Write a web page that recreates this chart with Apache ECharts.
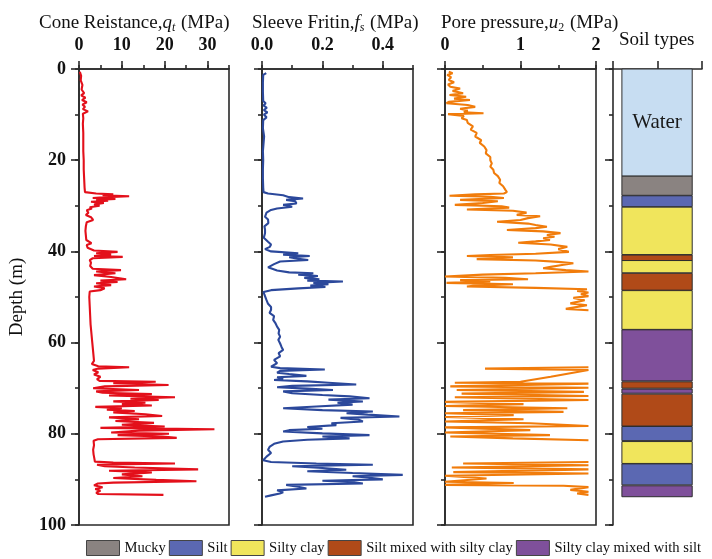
<!DOCTYPE html>
<html>
<head>
<meta charset="utf-8">
<script src="https://cdn.jsdelivr.net/npm/echarts@6/dist/echarts.min.js"></script>
<style>
  html, body { margin: 0; padding: 0; background: #fff; }
  #chart { width: 712px; height: 559px; }
</style>
</head>
<body>
<div id="chart"></div>
<script>
// ---- CPT profile: cone resistance q_t (MPa) against depth (m)
const coneDepth = [0.6,1.5,2.5,3.5,4.5,5.3,5.8,6.3,6.8,7.3,7.8,8.3,8.8,9.3,9.8,10.8,12,14,16,18,20,22,24,26,27.0,27.3,27.5,27.7,27.9,28.1,28.3,28.5,28.7,28.9,29.1,29.4,29.7,30.0,30.3,30.6,31.0,31.5,32.0,32.5,33.1,33.6,34.5,35.5,36.5,37.5,38.2,38.6,39.2,39.8,40.1,40.4,40.7,41.0,41.2,41.5,41.9,42.5,43.2,43.8,44.1,44.4,44.8,45.2,45.6,46.1,46.4,46.7,47.0,47.4,47.7,48.1,48.5,48.8,50,52,54,56,58,60,62,64,64.7,65.2,65.4,65.7,66.0,66.5,67.0,67.5,68.0,68.4,68.6,68.9,69.3,69.6,70.0,70.4,70.7,71.0,71.3,71.6,72.0,72.3,72.6,72.9,73.2,73.5,73.8,74.1,74.4,74.7,75.0,75.3,75.7,76.1,76.4,76.8,77.2,77.6,78.0,78.4,78.7,79.0,79.3,79.7,80.0,80.3,80.6,80.9,81.2,81.5,82.5,83.5,84.5,85.5,86.1,86.3,86.5,86.8,87.1,87.4,87.8,88.1,88.5,88.9,89.3,89.7,90.1,90.4,90.7,90.9,91.3,91.7,92.1,92.5,92.9,93.2,93.4];
const coneQt = [0.2,0.5,0.4,0.8,0.6,1.2,0.5,1.5,0.7,1.8,0.8,1.4,0.9,2.1,0.9,1.0,0.9,1.0,1.0,1.0,1.1,1.1,1.2,1.3,1.4,4.0,8.0,5.5,11.7,6.5,3.2,8.5,4.0,6.8,2.8,5.8,3.5,4.8,2.5,3.0,1.8,2.2,1.6,2.8,3.3,1.8,1.6,1.5,1.6,1.7,2.9,1.8,2.0,3.5,9.0,4.0,7.5,3.5,10.2,3.2,2.5,2.8,2.6,3.2,9.8,4.0,8.5,3.5,7.5,11.0,5.0,9.0,4.0,7.5,3.5,6.0,5.0,2.5,2.4,2.5,2.6,2.7,2.9,3.1,3.3,3.5,3.0,4.5,11.7,4.5,3.2,4.5,3.5,5.0,4.2,4.8,17.9,8.0,20.9,6.0,3.3,14.0,4.0,5.5,17.0,7.0,22.4,12.0,18.6,8.0,15.5,10.0,17.0,3.8,10.0,6.5,13.0,8.0,15.5,19.4,7.0,14.0,8.5,17.5,10.0,20.0,5.0,31.6,14.0,7.5,21.0,9.0,19.5,22.8,4.4,3.4,3.5,3.3,3.4,3.6,3.7,8.0,22.4,4.2,6.0,13.0,27.8,7.0,17.0,10.0,14.8,8.0,18.0,27.4,8.0,4.4,3.5,5.5,3.8,5.0,4.0,4.5,19.7];

// ---- sleeve friction f_s (MPa)
const sleeveDepth = [0.9,1.3,3,5,7,7.5,8,8.5,9,9.5,10,10.6,11.2,13,14.8,15.2,18,20,22,24,26,27.0,27.3,27.7,28.1,28.4,28.7,29.0,29.5,29.8,30.2,30.6,30.9,31.5,32.4,33.0,33.8,34.5,35.2,36.0,37.0,37.9,38.5,39.0,39.5,40.0,40.4,40.7,41.0,41.3,41.6,41.9,42.2,42.8,43.5,44.2,44.6,44.8,45.1,45.4,45.8,46.1,46.4,46.6,46.9,47.2,47.5,47.8,48.1,48.5,48.9,49.5,50.7,51.5,52.2,52.8,53.5,54.2,55.0,55.8,56.5,57.2,58.0,58.7,59.4,60.2,61.0,61.6,62.3,63.0,63.8,64.5,65.3,65.6,65.9,66.2,66.6,66.9,67.3,67.6,68.0,68.2,68.5,68.8,69.2,69.5,69.8,70.1,70.4,70.7,71.1,71.5,71.8,72.2,72.5,72.9,73.2,73.6,74.0,74.4,74.8,75.1,75.5,75.8,76.2,76.5,76.9,77.3,77.7,78.1,78.5,78.9,79.2,79.5,79.9,80.3,80.6,81.0,81.3,81.7,82.2,82.8,83.5,84.2,85.0,85.8,86.2,86.5,86.8,87.1,87.5,87.9,88.2,88.6,89.0,89.3,89.6,90.0,90.3,90.6,90.9,91.2,91.6,92.0,92.4,92.8,93.1,93.5,93.8];
const sleeveFs = [0.014,0.004,0.003,0.003,0.004,0.012,0.005,0.016,0.006,0.018,0.006,0.015,0.004,0.003,0.007,0.003,0.003,0.004,0.003,0.003,0.004,0.005,0.02,0.07,0.09,0.136,0.08,0.11,0.114,0.07,0.1,0.05,0.03,0.015,0.01,0.02,0.021,0.008,0.01,0.01,0.006,0.02,0.03,0.026,0.01,0.03,0.12,0.07,0.158,0.09,0.12,0.153,0.06,0.04,0.02,0.05,0.09,0.17,0.12,0.185,0.14,0.19,0.15,0.268,0.17,0.22,0.16,0.21,0.12,0.03,0.005,0.008,0.015,0.02,0.03,0.03,0.025,0.04,0.037,0.045,0.05,0.057,0.055,0.06,0.054,0.06,0.065,0.07,0.055,0.06,0.04,0.05,0.03,0.06,0.208,0.06,0.05,0.09,0.147,0.05,0.07,0.04,0.15,0.22,0.312,0.1,0.05,0.15,0.235,0.07,0.10,0.2,0.29,0.356,0.22,0.334,0.25,0.3,0.18,0.07,0.2,0.367,0.28,0.35,0.455,0.26,0.32,0.334,0.23,0.246,0.15,0.2,0.09,0.07,0.2,0.356,0.2,0.29,0.15,0.07,0.04,0.026,0.02,0.03,0.015,0.004,0.03,0.18,0.367,0.1,0.2,0.279,0.15,0.3,0.466,0.3,0.35,0.40,0.2,0.3,0.334,0.08,0.12,0.147,0.05,0.07,0.059,0.03,0.01];

// ---- pore pressure u_2 (MPa); null = no reading on the 0-2 MPa scale
const poreDepth = [0.6,0.95,1.3,1.8,2.4,2.9,3.4,3.9,4.3,4.8,5.3,5.7,6.1,6.5,6.8,7.2,7.5,7.9,8.3,8.7,9.1,9.5,9.7,9.9,10.3,10.8,11.2,11.8,12.6,13.3,14.0,14.8,15.6,16.2,17.0,17.8,18.5,19.3,20.0,20.7,21.4,22.1,22.8,23.5,24.3,25.0,25.7,26.5,27.0,27.3,27.5,27.8,28.0,28.3,28.7,29.0,29.4,29.8,30.1,30.4,30.8,31.1,31.5,32.0,32.3,32.7,33.1,33.5,33.9,34.2,34.6,34.9,35.3,35.6,36.0,36.4,36.8,37.1,37.5,37.8,38.1,38.5,39.0,39.5,40.1,40.5,40.8,41.0,41.3,41.7,42.0,42.3,42.6,43.0,43.4,43.7,44.1,44.4,44.8,45.1,45.5,45.8,46.1,46.3,46.6,46.9,47.2,47.5,47.7,48.0,48.3,48.7,49.0,49.4,49.8,50.2,50.7,51.4,51.8,52.2,52.6,52.9,59,65.4,65.7,66.0,66.4,67.5,68.6,68.8,69.0,69.6,69.9,70.4,70.8,71.2,71.7,72.0,72.6,73.0,73.5,73.9,74.4,74.8,75.2,75.5,75.9,76.3,76.8,77.3,77.7,78.3,78.6,79.2,79.7,80.3,80.6,81.0,81.4,84,86.2,86.5,86.9,87.4,87.8,88.4,88.7,89.2,89.8,90.5,90.8,91.2,91.4,91.7,92.3,92.7,93.1,93.4];
const poreU2 = [0.05,0.1,0.03,0.08,0.05,0.12,0.04,0.07,0.2,0.1,0.24,0.06,0.28,0.12,0.33,0.05,0.02,0.3,0.4,0.2,0.3,0.25,0.51,0.04,0.25,0.22,0.29,0.3,0.37,0.34,0.42,0.4,0.48,0.46,0.52,0.55,0.54,0.6,0.6,0.62,0.6,0.64,0.65,0.7,0.73,0.72,0.77,0.8,0.82,0.78,0.4,0.06,0.6,0.78,0.2,0.7,0.5,0.13,0.75,0.85,0.29,0.9,1.08,0.95,1.26,1.1,1.0,0.69,1.1,1.2,1.35,1.2,0.82,1.3,1.53,1.35,1.45,1.3,1.39,1.2,0.97,1.4,1.62,1.5,1.64,1.2,0.6,0.29,0.9,0.42,1.2,1.5,1.7,1.55,1.4,1.3,1.6,1.9,1.2,0.5,0.0,0.8,1.1,0.2,0.6,0.02,0.9,0.4,0.29,1.2,1.88,1.75,1.9,1.8,1.9,1.7,1.85,1.66,1.88,1.9,1.6,1.9,null,1.9,0.53,1.9,1.88,1.4,1.0,0.13,1.9,0.07,1.9,0.155,1.84,0.22,1.9,0.13,1.9,0.0,1.04,0.0,1.62,0.24,1.57,0.0,0.91,0.0,1.04,0.0,1.13,1.9,0.0,1.13,0.0,1.39,0.07,0.9,1.9,null,1.9,0.24,1.9,0.09,1.9,0.11,1.9,0.0,0.55,0.0,0.91,0.0,1.57,1.9,1.66,1.9,1.75,1.9];

// ---- soil column (depth of layer top / bottom, m)
const soilNames = ['Mucky', 'Silt', 'Silty clay', 'Silt mixed with silty clay', 'Silty clay mixed with silt'];
const soilColors = ['#8a8381', '#5b68b2', '#f0e55c', '#b04a18', '#7f509b'];
const soilTop =    [0,    23.5, 27.8, 30.3, 40.8, 42.0, 44.8, 48.6, 57.2, 68.6, 70.2, 71.3, 78.4, 81.7, 86.6, 91.4];
const soilBottom = [23.5, 27.7, 30.2, 40.7, 42.0, 44.7, 48.5, 57.1, 68.4, 70.0, 71.1, 78.3, 81.5, 86.5, 91.2, 93.8];
const soilLayer =  ['Water', 'Mucky', 'Silt', 'Silty clay', 'Silt mixed with silty clay', 'Silty clay', 'Silt mixed with silty clay', 'Silty clay', 'Silty clay mixed with silt', 'Silt mixed with silty clay', 'Silty clay mixed with silt', 'Silt mixed with silty clay', 'Silt', 'Silty clay', 'Silt', 'Silty clay mixed with silt'];

// ---- axis tick labels
const depthTicks = [0, 20, 40, 60, 80, 100];
const coneTicks = [0, 10, 20, 30];
const sleeveTicks = ['0.0', '0.2', '0.4'];
const poreTicks = [0, 1, 2];

const FONT = 'Liberation Serif';
const AX = '#2a2a2a';
const pairs = (vals, depths) => vals.map((v, i) => [v === null ? '-' : v, depths[i]]);

const grids = [
  { left: 79, top: 69, width: 150, height: 456 },
  { left: 262, top: 69, width: 151, height: 456 },
  { left: 445, top: 69, width: 151, height: 456 },
  { left: 613, top: 69, width: 89, height: 456 }
].map((g, i) => Object.assign(g, {
  show: i < 3, borderColor: AX, borderWidth: 1.6, backgroundColor: 'transparent'
}));

function majorX(grid, max, interval, labels, fmt) {
  return {
    type: 'value', gridIndex: grid, position: 'top', min: 0, max: max, interval: interval,
    axisLine: { show: true, lineStyle: { color: AX, width: 1.6 } },
    axisTick: { show: true, inside: false, length: 8, lineStyle: { color: AX, width: 1.6 } },
    axisLabel: {
      show: labels, showMaxLabel: false, margin: 15,
      color: '#111', fontFamily: FONT, fontWeight: 'bold', fontSize: 18,
      formatter: fmt
    },
    splitLine: { show: false }
  };
}
function minorX(grid, max, interval) {
  return {
    type: 'value', gridIndex: grid, position: 'top', min: 0, max: max, interval: interval,
    axisLine: { show: false },
    axisTick: { show: true, length: 4, lineStyle: { color: AX, width: 1.6 } },
    axisLabel: { show: false }, splitLine: { show: false }
  };
}
function majorY(grid, labels) {
  return {
    type: 'value', gridIndex: grid, position: 'left', inverse: true, min: 0, max: 100, interval: 20,
    name: labels ? 'Depth (m)' : '', nameLocation: 'middle', nameGap: 52, nameRotate: 90,
    nameTextStyle: { fontFamily: FONT, fontSize: 19, color: '#111' },
    axisLine: { show: true, lineStyle: { color: AX, width: 1.6 } },
    axisTick: { show: true, length: 8, lineStyle: { color: AX, width: 1.6 } },
    axisLabel: {
      show: labels, margin: 13, color: '#111', fontFamily: FONT, fontWeight: 'bold', fontSize: 18,
      formatter: v => depthTicks.indexOf(v) >= 0 ? String(v) : ''
    },
    splitLine: { show: false }
  };
}
function minorY(grid) {
  return {
    type: 'value', gridIndex: grid, position: 'left', inverse: true, min: 0, max: 100, interval: 10,
    axisLine: { show: false },
    axisTick: { show: true, length: 4, lineStyle: { color: AX, width: 1.6 } },
    axisLabel: { show: false }, splitLine: { show: false }
  };
}

const xAxis = [
  majorX(0, 35, 10, true, v => coneTicks.indexOf(v) >= 0 ? String(v) : ''), minorX(0, 35, 5),
  majorX(1, 0.5, 0.2, true, v => { const s = v.toFixed(1); return sleeveTicks.indexOf(s) >= 0 ? s : ''; }), minorX(1, 0.5, 0.1),
  majorX(2, 2, 1, true, v => poreTicks.indexOf(v) >= 0 ? String(v) : ''), minorX(2, 2, 0.5),
  majorX(3, 2, 1, false)
];
xAxis[4].axisLabel.showMaxLabel = true;
const yAxis = [
  majorY(0, true), minorY(0),
  majorY(1, false), minorY(1),
  majorY(2, false), minorY(2),
  majorY(3, false), minorY(3)
];

// soil column spans x 0.2 .. 1.78 of the panel's 0..2 axis
function renderLayer(params, api) {
  const p0 = api.coord([0.2, api.value(0)]);
  const p1 = api.coord([1.78, api.value(1)]);
  const rect = {
    type: 'rect',
    shape: { x: p0[0], y: p0[1], width: p1[0] - p0[0], height: p1[1] - p0[1] },
    style: { fill: api.visual('color'), stroke: '#2e2e2e', lineWidth: 1 }
  };
  if (params.seriesName !== 'Water') return rect;
  const mid = api.coord([0.99, api.value(0) + (api.value(1) - api.value(0)) * 0.5]);
  return {
    type: 'group', children: [rect, {
      type: 'text',
      style: { text: 'Water', x: mid[0], y: mid[1], align: 'center', verticalAlign: 'middle',
        font: '21px "Liberation Serif"', fill: '#1a1a1a' }
    }]
  };
}
function layersOf(name) {
  const out = [];
  soilLayer.forEach((s, i) => { if (s === name) out.push([soilTop[i], soilBottom[i]]); });
  return out;
}
const soilSeries = ['Water'].concat(soilNames).map((name, k) => ({
  type: 'custom', name: name, xAxisIndex: 6, yAxisIndex: 6,
  coordinateSystem: 'cartesian2d',
  itemStyle: { color: k === 0 ? '#c7ddf2' : soilColors[k - 1] },
  encode: { y: [0, 1] },
  renderItem: renderLayer,
  data: layersOf(name),
  silent: true
}));

const lineStyle = c => ({
  type: 'line', showSymbol: false, symbol: 'none', silent: true, animation: false,
  lineStyle: { color: c, width: 2.1 }, itemStyle: { color: c }, connectNulls: false
});

const titleRich = {
  a: { fontFamily: FONT, fontSize: 19, fontWeight: 'normal', color: '#111' },
  i: { fontFamily: FONT, fontSize: 19, fontWeight: 'normal', fontStyle: 'italic', color: '#111' },
  s: { fontFamily: FONT, fontSize: 12, fontWeight: 'normal', fontStyle: 'italic', color: '#111', padding: [10, 1, 0, 0] },
  n: { fontFamily: FONT, fontSize: 12, fontWeight: 'normal', color: '#111', padding: [10, 1, 0, 0] }
};

const option = {
  animation: false,
  backgroundColor: '#fff',
  title: [
    { text: '{a|Cone Reistance,}{i|q}{s|t}{a| (MPa)}', left: 39, top: 12, padding: 0, textStyle: { fontWeight: 'normal', rich: titleRich } },
    { text: '{a|Sleeve Fritin,}{i|f}{s|s}{a| (MPa)}', left: 252, top: 12, padding: 0, textStyle: { fontWeight: 'normal', rich: titleRich } },
    { text: '{a|Pore pressure,}{i|u}{n|2}{a| (MPa)}', left: 441, top: 12, padding: 0, textStyle: { fontWeight: 'normal', rich: titleRich } },
    { text: 'Soil types', left: 619, top: 31, padding: 0, textStyle: { fontFamily: FONT, fontSize: 19, fontWeight: 'normal', color: '#111' } }
  ],
  legend: {
    data: soilNames, left: 86, top: 540, width: 700, padding: 0, orient: 'horizontal',
    icon: 'rect', itemWidth: 33, itemHeight: 15, itemGap: 3,
    itemStyle: { borderColor: '#444', borderWidth: 1 },
    textStyle: { fontFamily: FONT, fontSize: 14.6, color: '#111' },
    selectedMode: false
  },
  grid: grids,
  xAxis: xAxis,
  yAxis: yAxis,
  series: [
    Object.assign(lineStyle('#e3101b'), { name: 'q_t', xAxisIndex: 0, yAxisIndex: 0, data: pairs(coneQt, coneDepth) }),
    Object.assign(lineStyle('#2b489b'), { name: 'f_s', xAxisIndex: 2, yAxisIndex: 2, data: pairs(sleeveFs, sleeveDepth) }),
    Object.assign(lineStyle('#f17c0b'), { name: 'u_2', xAxisIndex: 4, yAxisIndex: 4, data: pairs(poreU2, poreDepth) })
  ].concat(soilSeries)
};

const chart = echarts.init(document.getElementById('chart'), null, { renderer: 'canvas' });
chart.setOption(option);
</script>
</body>
</html>
